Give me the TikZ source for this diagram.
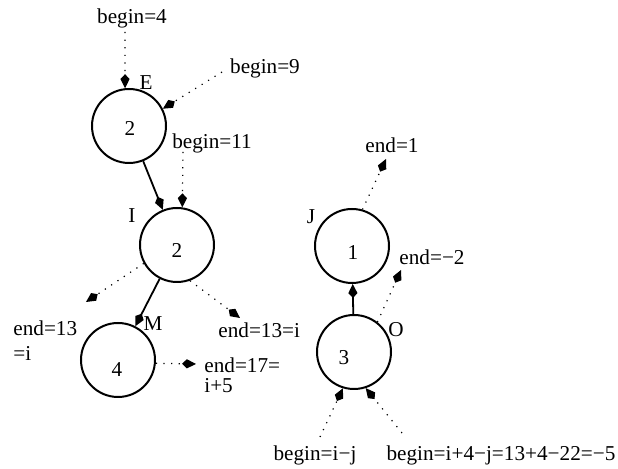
\documentclass[tikz,border=0pt]{standalone}
\usepackage{fontspec}
\setmainfont{Liberation Serif}
\usetikzlibrary{arrows.meta}
\begin{document}
\begin{tikzpicture}[x=0.5pt,y=-0.5pt,
  font=\fontsize{10.6}{12.5}\selectfont,
  vertex/.style={circle,draw,line width=1pt,minimum size=37pt,inner sep=0pt},
  txt/.style={inner sep=0pt},
  tip/.style={-{Kite[length=7pt,width=4.6pt,inset=2.4pt]}},
  solidedge/.style={tip,line width=0.9pt},
  dotedge/.style={tip,line width=0.6pt,dash pattern=on 0.6pt off 3.2pt}]
\useasboundingbox (0,0) rectangle (618,469);
% circles
\node[vertex] (E) at (129,126) {};
\node[vertex] (I) at (177,245) {};
\node[vertex] (M) at (118,360) {};
\node[vertex] (J) at (352,246) {};
\node[vertex] (O) at (354,352) {};
% numbers
\node[txt] (nE) at (130,128) {2};
\node[txt] (nI) at (177,250) {2};
\node[txt] (nM) at (117,370) {4};
\node[txt] (nJ) at (353,253) {1};
\node[txt] (nO) at (344,358) {3};
% letters
\node[txt] (lE) at (146,83) {E};
\node[txt] (lI) at (132,216) {I};
\node[txt] (lM) at (153,324) {M};
\node[txt] (lJ) at (311,217) {J};
\node[txt] (lO) at (396,330) {O};
% texts
\node[txt] (b4) at (132,18) {begin=4};
\node[txt] (b9) at (265,68) {begin=9};
\node[txt] (b11) at (212,143) {begin=11};
\node[txt,align=left,anchor=west] (e13) at (13,341) {end=13\\=i};
\node[txt,anchor=west] (e13i) at (218,330) {end=13=i};
\node[txt,align=left,anchor=west,font=\fontsize{10.6}{10}\selectfont] (e17) at (204,375) {end=17=\\i+5};
\node[txt] (e1) at (392,145) {end=1};
\node[txt] (e2) at (432,257) {end=−2};
\node[txt] (bij) at (315,455) {begin=i−j};
\node[txt] (bi4) at (501,455) {begin=i+4−j=13+4−22=−5};
% free ends
\coordinate (c4) at (125,32);
\coordinate (c9) at (222,72);
\coordinate (c11) at (183,152);
\coordinate (c13) at (86,302);
\coordinate (c13i) at (240,318);
\coordinate (c17) at (196,364);
\coordinate (c1) at (386,159);
\coordinate (c2) at (401,270);
\coordinate (cij) at (320,437);
\coordinate (ci4) at (402,433);
% solid edges
\draw[solidedge] (E) -- (I);
\draw[solidedge] (I) -- (M);
\draw[solidedge] (O) -- (J);
% dotted edges
\draw[dotedge] (c4) -- (E.96);
\draw[dotedge] (c9) -- (E.27);
\draw[dotedge] (c11) -- (I.82);
\draw[dotedge] (I.209) -- (c13);
\draw[dotedge] (I.-70) -- (c13i);
\draw[dotedge] (M.-5) -- (c17);
\draw[dotedge] (J.74) -- (c1);
\draw[dotedge] (O.52) -- (c2);
\draw[dotedge] (cij) -- (O.-107);
\draw[dotedge] (ci4) -- (O.-72);
\end{tikzpicture}
\end{document}
